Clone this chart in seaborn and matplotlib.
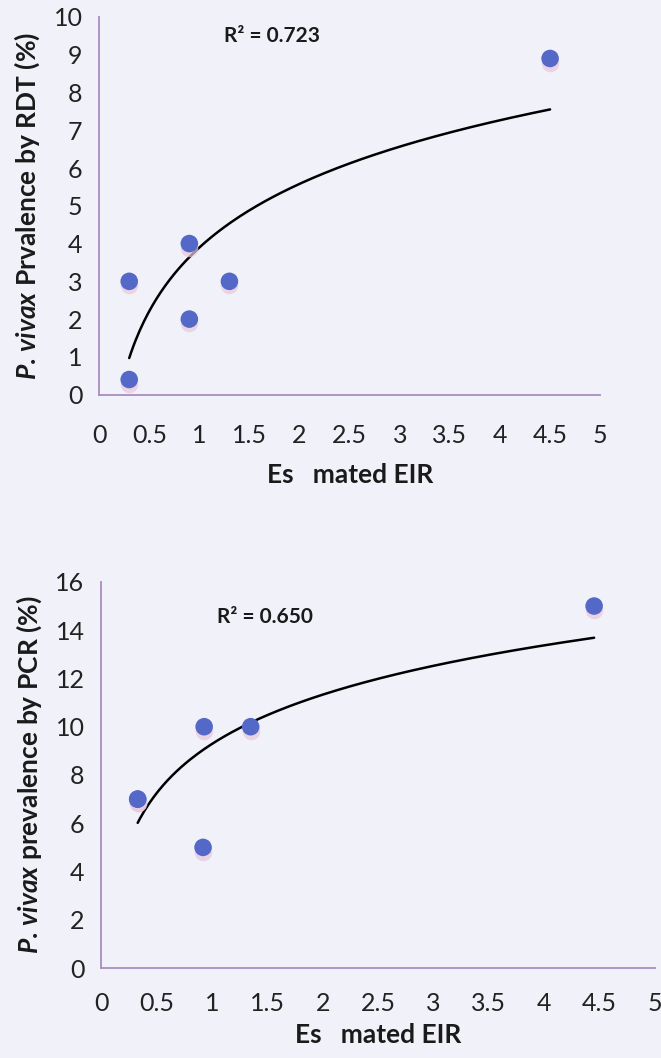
import numpy as np
import matplotlib
matplotlib.use("Agg")
import matplotlib.pyplot as plt
import matplotlib.transforms as mtransforms
import seaborn as sns

# Estimated EIR vs P. vivax prevalence
eir_rdt = [0.30, 0.30, 0.90, 0.90, 1.30, 4.50]
prev_rdt = [0.4, 3.0, 2.0, 4.0, 3.0, 8.9]
r2_rdt = "0.723"

# two sites overlap at (0.33, 7)
eir_pcr = [0.33, 0.33, 0.92, 0.93, 1.35, 4.45]
prev_pcr = [7.0, 7.0, 5.0, 10.0, 10.0, 15.0]
r2_pcr = "0.650"

x_ticks = [0, 0.5, 1, 1.5, 2, 2.5, 3, 3.5, 4, 4.5, 5]
x_ticklabels = ["0", "0.5", "1", "1.5", "2", "2.5", "3", "3.5", "4", "4.5", "5"]

sns.set_style("white")
plt.rcParams["font.family"] = ["Lato", "DejaVu Sans"]
plt.rcParams["mathtext.fontset"] = "custom"
plt.rcParams["mathtext.it"] = "Lato:italic:bold"
plt.rcParams["mathtext.rm"] = "Lato:bold"

bg = "#f1f2f9"
axis_col = "#a98cc0"
dot_col = "#5468c8"

fig = plt.figure(figsize=(6.61, 10.58), dpi=100, facecolor=bg)
ax1 = fig.add_axes([0.150, 0.627, 0.758, 0.357])
ax2 = fig.add_axes([0.153, 0.085, 0.838, 0.365])


def panel(ax, x, y, r2, ylim, ystep, ylabel, r2_pos, tpad, lpad):
    ax.set_facecolor(bg)
    # log trendline fitted to the points
    a, b = np.polyfit(np.log(x), y, 1)
    xs = np.linspace(min(x), max(x), 200)
    sns.lineplot(x=xs, y=a * np.log(xs) + b, ax=ax, color="black", lw=1.8)
    # soft shadow under the markers
    shadow = mtransforms.offset_copy(ax.transData, fig=fig, x=0, y=-3, units="points")
    ax.scatter(x, y, s=160, color="#e8c8dc", alpha=0.7, transform=shadow,
               linewidths=0, zorder=2)
    sns.scatterplot(x=x, y=y, ax=ax, s=160, color=dot_col, edgecolor="none",
                    zorder=3)
    ax.set_xlim(0, 5)
    ax.set_ylim(*ylim)
    ax.set_xticks(x_ticks)
    ax.set_xticklabels(x_ticklabels)
    ax.set_yticks(np.arange(ylim[0], ylim[1] + 0.1, ystep))
    for s in ["top", "right"]:
        ax.spines[s].set_visible(False)
    for s in ["left", "bottom"]:
        ax.spines[s].set_color(axis_col)
        ax.spines[s].set_linewidth(1.3)
    ax.tick_params(axis="x", direction="inout", length=10, width=1.2,
                   color=axis_col, pad=tpad, labelsize=18, labelcolor="#222222")
    ax.tick_params(axis="y", direction="out", length=6, width=1.2,
                   color=axis_col, pad=6, labelsize=18, labelcolor="#222222")
    ax.set_xlabel("Es   mated EIR", fontsize=19, fontweight="bold",
                  color="#1a1a1a", labelpad=lpad)
    ax.set_ylabel(ylabel, fontsize=19, fontweight="bold", color="#1a1a1a",
                  labelpad=8)
    ax.text(r2_pos[0], r2_pos[1], "R² = " + r2, transform=ax.transAxes,
            fontsize=15, fontweight="bold", color="#1a1a1a", va="center")


panel(ax1, eir_rdt, prev_rdt, r2_rdt, (0, 10), 1,
      r"$P.\!$ $vivax$ Prvalence by RDT (%)", (0.25, 0.95), 16, 12)
panel(ax2, eir_pcr, prev_pcr, r2_pcr, (0, 16), 2,
      r"$P.\!$ $vivax$ prevalence by PCR (%)", (0.21, 0.91), 12, 6)

fig.savefig("out.png", dpi=100, facecolor=bg)
